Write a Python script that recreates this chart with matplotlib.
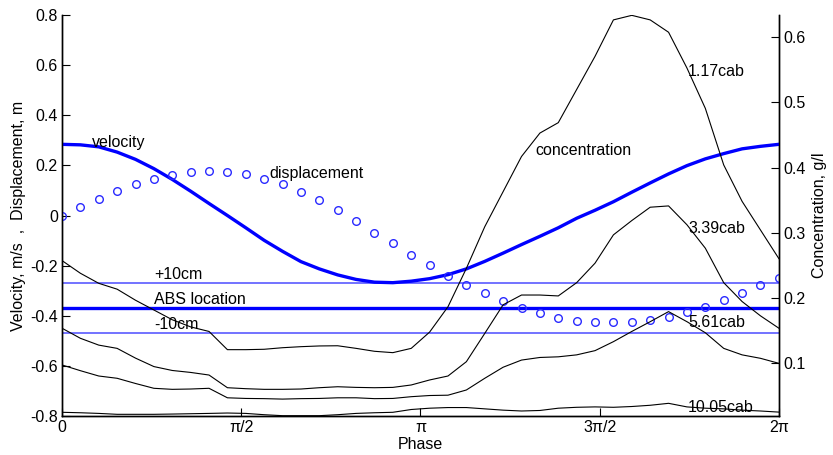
import numpy as np
import matplotlib
matplotlib.use("Agg")
import matplotlib.pyplot as plt

plt.rcParams['font.family'] = ['Liberation Sans', 'DejaVu Sans']
plt.rcParams['axes.unicode_minus'] = False

phase = np.linspace(0, 2 * np.pi, 40)

displacement = [0.000, 0.035, 0.067, 0.097, 0.125, 0.147, 0.163, 0.175, 0.177, 0.173,
                0.166, 0.147, 0.124, 0.093, 0.060, 0.020, -0.023, -0.068, -0.111, -0.156,
                -0.198, -0.240, -0.277, -0.311, -0.342, -0.370, -0.389, -0.407, -0.419, -0.426,
                -0.426, -0.426, -0.415, -0.403, -0.385, -0.365, -0.338, -0.308, -0.277, -0.248]

velocity = [0.284, 0.282, 0.274, 0.253, 0.224, 0.187, 0.144, 0.097, 0.048, 0.000,
            -0.049, -0.099, -0.143, -0.184, -0.213, -0.237, -0.255, -0.266, -0.268, -0.262,
            -0.252, -0.236, -0.213, -0.183, -0.150, -0.116, -0.083, -0.049, -0.011, 0.021,
            0.055, 0.093, 0.130, 0.166, 0.199, 0.226, 0.247, 0.266, 0.276, 0.284]

conc_117 = [0.257, 0.2375, 0.222, 0.213, 0.196, 0.181, 0.166, 0.155, 0.148, 0.120,
            0.120, 0.1206, 0.123, 0.1246, 0.1257, 0.126, 0.122, 0.1175, 0.1154, 0.122,
            0.147, 0.186, 0.245, 0.309, 0.363, 0.417, 0.453, 0.469, 0.520, 0.571,
            0.627, 0.634, 0.627, 0.608, 0.553, 0.491, 0.404, 0.348, 0.304, 0.260]

conc_339 = [0.153, 0.1375, 0.127, 0.122, 0.107, 0.094, 0.088, 0.085, 0.081, 0.0615,
            0.060, 0.059, 0.059, 0.0595, 0.0615, 0.063, 0.062, 0.0615, 0.062, 0.0657,
            0.0734, 0.0795, 0.1015, 0.145, 0.189, 0.204, 0.204, 0.2026, 0.223, 0.253,
            0.2965, 0.3185, 0.339, 0.341, 0.312, 0.276, 0.223, 0.194, 0.172, 0.153]

conc_561 = [0.0965, 0.0877, 0.0795, 0.076, 0.068, 0.0606, 0.059, 0.0595, 0.0606, 0.046,
            0.045, 0.0447, 0.044, 0.0447, 0.045, 0.046, 0.046, 0.0447, 0.045, 0.0477,
            0.0495, 0.050, 0.058, 0.076, 0.093, 0.104, 0.108, 0.109, 0.112, 0.1185,
            0.1323, 0.148, 0.163, 0.1785, 0.163, 0.146, 0.122, 0.112, 0.1067, 0.099]

conc_1005 = [0.0237, 0.023, 0.022, 0.0206, 0.0206, 0.0206, 0.021, 0.0215, 0.022, 0.0226,
             0.022, 0.020, 0.0185, 0.0185, 0.0185, 0.020, 0.022, 0.023, 0.0237, 0.028,
             0.030, 0.031, 0.031, 0.029, 0.027, 0.0257, 0.0265, 0.030, 0.0314, 0.032,
             0.0314, 0.0326, 0.0345, 0.0375, 0.032, 0.030, 0.029, 0.027, 0.0257, 0.024]

abs_location = -0.37
offset = 0.10

xticks = [0, np.pi / 2, np.pi, 3 * np.pi / 2, 2 * np.pi]
xticklabels = ['0', 'π/2', 'π', '3π/2', '2π']
left_ticks = [0.8, 0.6, 0.4, 0.2, 0, -0.2, -0.4, -0.6, -0.8]
left_ticklabels = ['0.8', '0.6', '0.4', '0.2', '0', '-0.2', '-0.4', '-0.6', '-0.8']
right_ticks = [0.1, 0.2, 0.3, 0.4, 0.5, 0.6]
right_ticklabels = ['0.1', '0.2', '0.3', '0.4', '0.5', '0.6']

FS = 11.5
fig = plt.figure(figsize=(8.33, 4.55), dpi=100)
ax = fig.add_axes([0.0744, 0.0857, 0.8606, 0.8813])
ax2 = ax.twinx()

blue = '#0000ff'
light = '#5a5aff'

# left axis content
ax.axhline(abs_location + offset, color=light, lw=1.2, zorder=2)
ax.axhline(abs_location, color=blue, lw=2.4, zorder=2)
ax.axhline(abs_location - offset, color=light, lw=1.2, zorder=2)
ax.plot(phase, velocity, color=blue, lw=2.4, zorder=3)
ax.plot(phase, displacement, linestyle='none', marker='o', ms=5.5,
        mfc='none', mec='#2a2aff', mew=1.0, zorder=3)

ax.set_xlim(0, 2 * np.pi)
ax.set_ylim(-0.8, 0.8)
ax.set_xticks(xticks)
ax.set_xticklabels(xticklabels, fontsize=FS)
ax.set_yticks(left_ticks)
ax.set_yticklabels(left_ticklabels, fontsize=FS)
ax.set_xlabel('Phase', fontsize=FS, labelpad=1)
ax.set_ylabel('Velocity, m/s  ,  Displacement, m', fontsize=FS, labelpad=3)

# right axis content
for c in (conc_117, conc_339, conc_561, conc_1005):
    ax2.plot(phase, c, color='black', lw=0.8, zorder=2)
ax2.set_ylim(0.018, 0.6345)
ax2.set_yticks(right_ticks)
ax2.set_yticklabels(right_ticklabels, fontsize=FS)
ax2.set_ylabel('Concentration, g/l', fontsize=FS, labelpad=5)

for a in (ax, ax2):
    a.spines['top'].set_visible(False)
    a.tick_params(direction='in', length=5.5, width=0.8, pad=3)
    for s in a.spines.values():
        s.set_linewidth(1.0)

# annotations
ax.text(0.263, 0.293, 'velocity', fontsize=FS, va='center', ha='left')
ax.text(1.817, 0.168, 'displacement', fontsize=FS, va='center', ha='left')
ax.text(0.809, -0.236, '+10cm', fontsize=FS, va='center', ha='left')
ax.text(0.809, -0.334, 'ABS location', fontsize=FS, va='center', ha='left')
ax.text(0.809, -0.435, '-10cm', fontsize=FS, va='center', ha='left')
ax2.text(4.146, 0.4257, 'concentration', fontsize=FS, va='center', ha='left')
ax2.text(5.488, 0.547, '1.17cab', fontsize=FS, va='center', ha='left')
ax2.text(5.488, 0.307, '3.39cab', fontsize=FS, va='center', ha='left')
ax2.text(5.488, 0.161, '5.61cab', fontsize=FS, va='center', ha='left')
ax2.text(5.488, 0.0308, '10.05cab', fontsize=FS, va='center', ha='left')

fig.savefig('out.png', dpi=100)
